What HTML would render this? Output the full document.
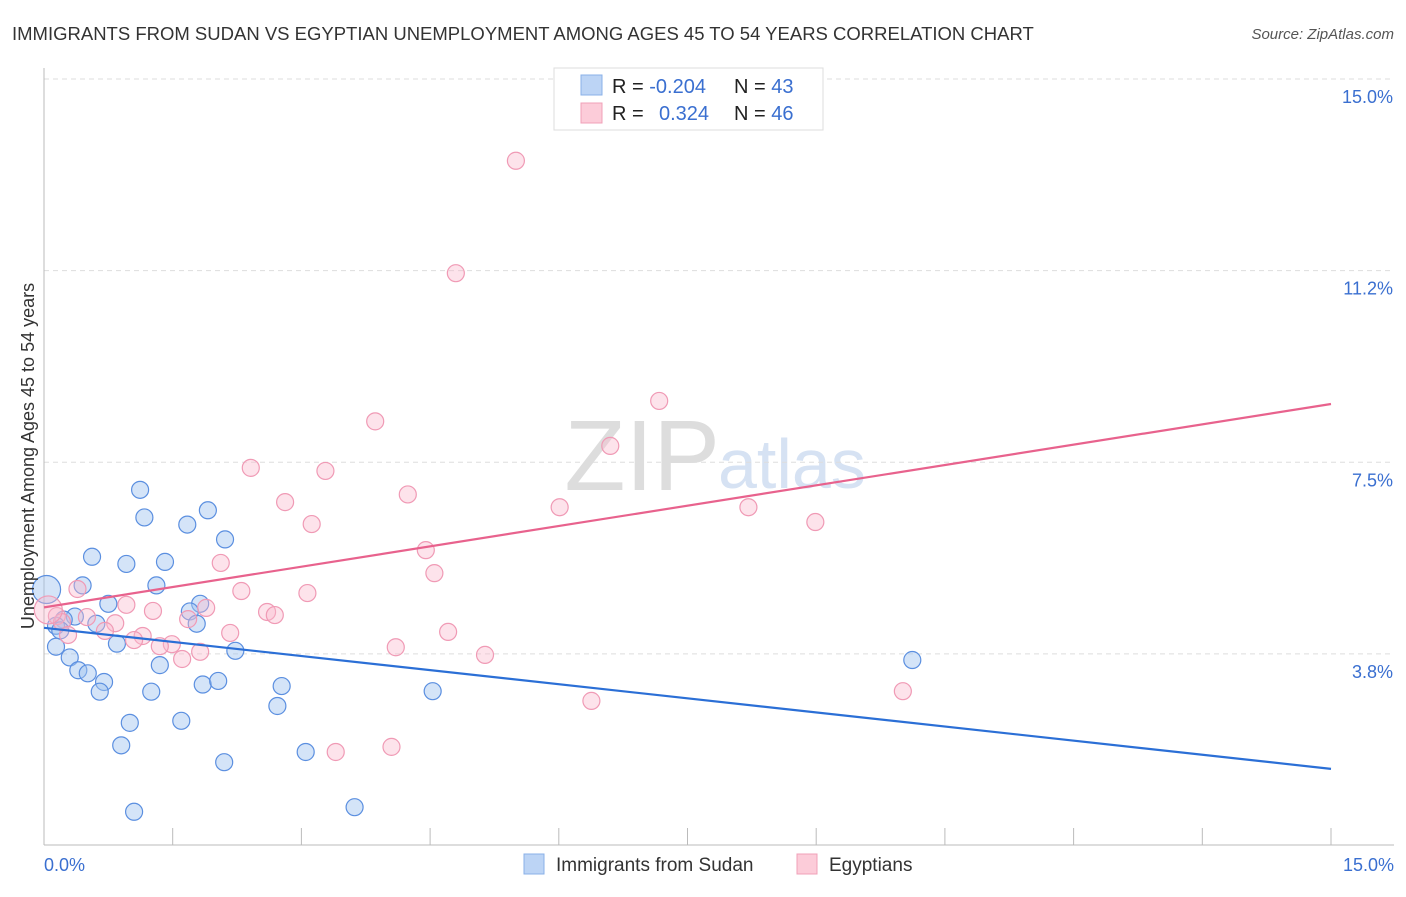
<!DOCTYPE html>
<html><head><meta charset="utf-8">
<style>
body{margin:0;background:#fff;font-family:"Liberation Sans",sans-serif;}
svg text{font-family:"Liberation Sans",sans-serif;}
</style></head>
<body>
<svg id="chart" width="1406" height="892" xmlns="http://www.w3.org/2000/svg">
<text x="12" y="40" font-size="18.5" fill="#333">IMMIGRANTS FROM SUDAN VS EGYPTIAN UNEMPLOYMENT AMONG AGES 45 TO 54 YEARS CORRELATION CHART</text>
<text x="1394" y="39" font-size="15" fill="#555" font-style="italic" text-anchor="end">Source: ZipAtlas.com</text>
<text x="720" y="490" font-size="100" fill="#ddd" text-anchor="end" font-family="Liberation Serif">ZIP</text>
<text x="718" y="488" font-size="70" fill="#d6e2f3">atlas</text>
<g id="grid"></g>
<g id="axes"></g>
<g id="points"></g>
<g id="trends"></g>
<text transform="translate(34,456) rotate(-90)" font-size="18" fill="#333" text-anchor="middle">Unemployment Among Ages 45 to 54 years</text>
<g>
<rect x="554" y="68" width="269" height="62" fill="#fff" stroke="#ddd"/>
<rect x="581" y="75" width="21" height="20" fill="#bcd4f5" stroke="#8ab0e8"/>
<rect x="581" y="103" width="21" height="20" fill="#fcccd9" stroke="#f0a0b8"/>
<text x="612" y="93" font-size="20" fill="#222">R = <tspan fill="#3a6fd0">-0.204</tspan></text>
<text x="734" y="93" font-size="20" fill="#222">N = <tspan fill="#3a6fd0">43</tspan></text>
<text x="612" y="120" font-size="20" fill="#222">R = <tspan fill="#3a6fd0" x="659">0.324</tspan></text>
<text x="734" y="120" font-size="20" fill="#222">N = <tspan fill="#3a6fd0">46</tspan></text>
</g>
<g>
<rect x="524" y="854" width="20" height="20" fill="#bcd4f5" stroke="#8ab0e8"/>
<text x="556" y="871" font-size="19" fill="#333">Immigrants from Sudan</text>
<rect x="797" y="854" width="20" height="20" fill="#fcccd9" stroke="#f0a0b8"/>
<text x="829" y="871" font-size="19" fill="#333">Egyptians</text>
</g>
</svg>
<script>
const xTickLabels=["0.0%","15.0%"];
const yTickValues=[3.75,7.5,11.25,15];
const yTickLabels=["3.8%","7.5%","11.2%","15.0%"];
const blueX=[1.12,1.17,1.67,1.91,2.11,0.56,0.96,1.41,1.31,0.45,0.03,0.75,0.36,0.23,0.14,0.61,1.82,1.70,1.78,0.14,0.85,2.23,0.30,0.40,0.51,1.35,0.70,0.65,1.25,1.85,2.03,2.77,2.72,4.53,1.00,1.60,0.90,2.10,3.05,3.62,1.05,10.12,0.19];
const blueY=[6.96,6.42,6.28,6.56,5.99,5.65,5.51,5.55,5.09,5.09,5.01,4.73,4.48,4.42,4.30,4.34,4.73,4.58,4.34,3.89,3.95,3.81,3.68,3.43,3.37,3.53,3.20,3.01,3.01,3.15,3.22,3.12,2.73,3.02,2.40,2.44,1.96,1.63,1.83,0.75,0.66,3.63,4.21];
const pinkX=[5.50,4.80,3.86,7.17,6.60,2.41,3.28,4.24,2.81,3.12,6.01,8.21,8.99,4.45,2.06,4.55,2.30,0.39,3.07,1.89,1.27,2.60,2.69,0.96,0.50,0.83,0.15,0.21,1.68,1.15,2.17,0.71,0.28,1.49,1.35,1.05,4.10,4.71,1.82,1.61,5.14,10.01,6.38,4.05,3.40,0.05];
const pinkY=[13.40,11.20,8.30,8.70,7.82,7.39,7.33,6.87,6.72,6.29,6.62,6.62,6.33,5.78,5.53,5.33,4.98,5.02,4.94,4.65,4.59,4.57,4.51,4.71,4.47,4.35,4.49,4.37,4.43,4.10,4.16,4.20,4.12,3.94,3.90,4.02,3.88,4.18,3.79,3.65,3.73,3.02,2.83,1.93,1.83,4.61];
const blueTrend=[4.26,1.50];
const pinkTrend=[4.66,8.64];
const xMax=15,yMax=15;
const X0=44,X1=1331,Y0=845.5,Y1=79;
const sx=v=>X0+(v/xMax)*(X1-X0);
const sy=v=>Y0-(v/yMax)*(Y0-Y1);
const NS="http://www.w3.org/2000/svg";
function mk(tag,attrs,parent){const e=document.createElementNS(NS,tag);for(const k in attrs)e.setAttribute(k,attrs[k]);document.getElementById(parent).appendChild(e);return e;}
yTickValues.forEach((v,i)=>{
 const l=mk("line",{x1:X0,x2:1394,y1:sy(v),y2:sy(v),stroke:"#ddd","stroke-dasharray":"5,4"},"grid");
 
 
 const t=mk("text",{x:1393,y:sy(v)+24,"font-size":18,fill:"#3a6fd0","text-anchor":"end"},"grid");
 t.textContent=yTickLabels[i];
 
 
});
const ax=mk("line",{x1:X0,x2:1394,y1:845,y2:845,stroke:"#bbb"},"axes");


const ay=mk("line",{x1:X0,x2:X0,y1:68,y2:845,stroke:"#bbb"},"axes");


for(let i=0;i<=10;i++){
 const x=sx(i*1.5);
 const tk=mk("line",{x1:x,x2:x,y1:828,y2:845,stroke:"#bbb"},"axes");
 
 
}
[[0,"start",44],[15,"end",1394]].forEach((d,i)=>{
 const t=mk("text",{x:d[2],y:871,"font-size":18,fill:"#3a6fd0","text-anchor":d[1]},"axes");
 t.textContent=xTickLabels[i];
 
 
});
blueX.forEach((v,i)=>{
 const c=mk("circle",{cx:sx(v),cy:sy(blueY[i]),r:i==10?14:8.5,fill:"rgba(160,195,240,0.45)",stroke:"#5b8fe0","stroke-width":1.2},"points");
 
 
});
pinkX.forEach((v,i)=>{
 const c=mk("circle",{cx:sx(v),cy:sy(pinkY[i]),r:i==45?14:8.5,fill:"rgba(250,185,205,0.4)",stroke:"#f09ab5","stroke-width":1.2},"points");
 
 
});
const bl=mk("line",{x1:sx(0),y1:sy(blueTrend[0]),x2:sx(15),y2:sy(blueTrend[1]),stroke:"#2b6fd6","stroke-width":2.2},"trends");


const pl=mk("line",{x1:sx(0),y1:sy(pinkTrend[0]),x2:sx(15),y2:sy(pinkTrend[1]),stroke:"#e8628d","stroke-width":2.2},"trends");


</script>
</body></html>
